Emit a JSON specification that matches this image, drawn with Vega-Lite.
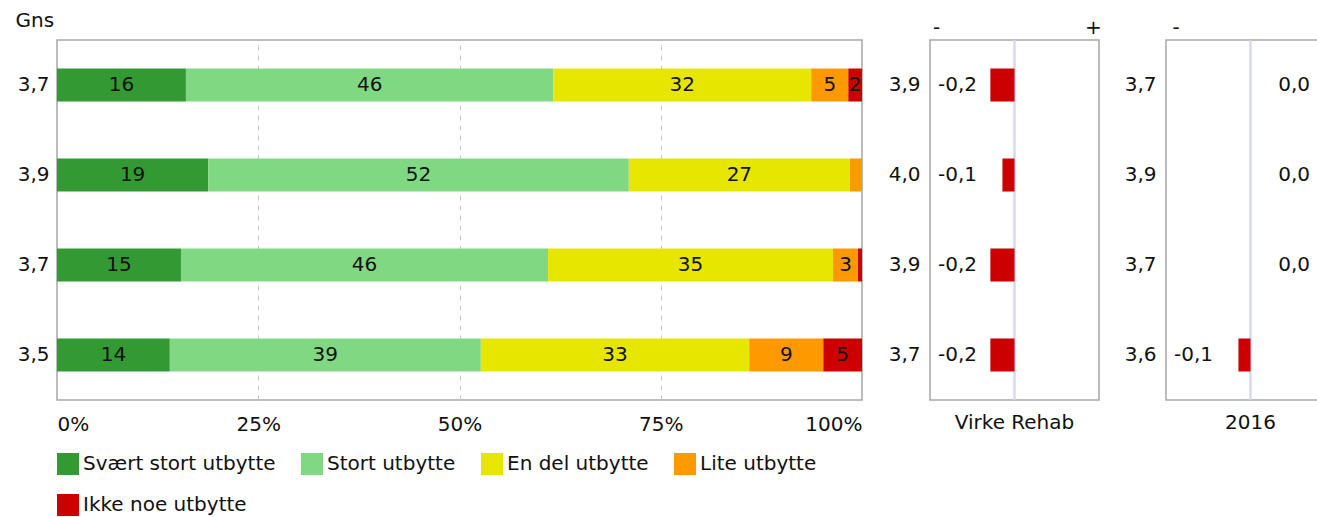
{
  "$schema": "https://vega.github.io/schema/vega-lite/v6.json",
  "background": "white",
  "padding": {"left": 14, "top": 9, "right": 5, "bottom": 5},
  "config": {
    "font": "DejaVu Sans",
    "view": {"stroke": "#a6a6a6", "strokeWidth": 1.5},
    "axis": {"labelFont": "DejaVu Sans", "labelFontSize": 20, "labelColor": "#111111", "titleFont": "DejaVu Sans", "titleFontSize": 20, "titleFontWeight": "normal", "titleColor": "#111111"},
    "legend": {"labelFont": "DejaVu Sans", "labelFontSize": 20, "labelColor": "#111111"},
    "title": {"font": "DejaVu Sans", "fontSize": 20, "fontWeight": "normal", "color": "#111111"}
  },
  "datasets": {
    "main": [
      {"key": "1|3,7", "cat": "Svært stort utbytte", "o": 1, "pct": 16.0, "label": "16"},
      {"key": "1|3,7", "cat": "Stort utbytte", "o": 2, "pct": 45.6, "label": "46"},
      {"key": "1|3,7", "cat": "En del utbytte", "o": 3, "pct": 32.0, "label": "32"},
      {"key": "1|3,7", "cat": "Lite utbytte", "o": 4, "pct": 4.6, "label": "5"},
      {"key": "1|3,7", "cat": "Ikke noe utbytte", "o": 5, "pct": 1.7, "label": "2"},
      {"key": "2|3,9", "cat": "Svært stort utbytte", "o": 1, "pct": 18.8, "label": "19"},
      {"key": "2|3,9", "cat": "Stort utbytte", "o": 2, "pct": 52.3, "label": "52"},
      {"key": "2|3,9", "cat": "En del utbytte", "o": 3, "pct": 27.5, "label": "27"},
      {"key": "2|3,9", "cat": "Lite utbytte", "o": 4, "pct": 1.5, "label": ""},
      {"key": "2|3,9", "cat": "Ikke noe utbytte", "o": 5, "pct": 0.0, "label": ""},
      {"key": "3|3,7", "cat": "Svært stort utbytte", "o": 1, "pct": 15.4, "label": "15"},
      {"key": "3|3,7", "cat": "Stort utbytte", "o": 2, "pct": 45.6, "label": "46"},
      {"key": "3|3,7", "cat": "En del utbytte", "o": 3, "pct": 35.4, "label": "35"},
      {"key": "3|3,7", "cat": "Lite utbytte", "o": 4, "pct": 3.1, "label": "3"},
      {"key": "3|3,7", "cat": "Ikke noe utbytte", "o": 5, "pct": 0.5, "label": ""},
      {"key": "4|3,5", "cat": "Svært stort utbytte", "o": 1, "pct": 14.0, "label": "14"},
      {"key": "4|3,5", "cat": "Stort utbytte", "o": 2, "pct": 38.6, "label": "39"},
      {"key": "4|3,5", "cat": "En del utbytte", "o": 3, "pct": 33.3, "label": "33"},
      {"key": "4|3,5", "cat": "Lite utbytte", "o": 4, "pct": 9.2, "label": "9"},
      {"key": "4|3,5", "cat": "Ikke noe utbytte", "o": 5, "pct": 4.8, "label": "5"}
    ],
    "virke": [
      {"key": "1|3,9", "diff": -0.2, "label": "-0,2"},
      {"key": "2|4,0", "diff": -0.1, "label": "-0,1"},
      {"key": "3|3,9", "diff": -0.2, "label": "-0,2"},
      {"key": "4|3,7", "diff": -0.2, "label": "-0,2"}
    ],
    "y2016": [
      {"key": "1|3,7", "diff": 0.0, "label": "0,0"},
      {"key": "2|3,9", "diff": 0.0, "label": "0,0"},
      {"key": "3|3,7", "diff": 0.0, "label": "0,0"},
      {"key": "4|3,6", "diff": -0.1, "label": "-0,1"}
    ]
  },
  "spacing": 24,
  "hconcat": [
    {
      "width": 805,
      "height": 360,
      "data": {"name": "main"},
      "encoding": {
        "y": {
          "field": "key", "type": "nominal", "sort": null,
          "scale": {"paddingInner": 0.6333, "paddingOuter": 0.3167},
          "axis": {"labelExpr": "split(datum.value,'|')[1]", "ticks": false, "domain": false, "labelPadding": 8, "title": "Gns", "titleAngle": 0, "titleAlign": "left", "titleBaseline": "alphabetic", "titleX": -42, "titleY": -14}
        }
      },
      "layer": [
        {
          "mark": {"type": "bar"},
          "encoding": {
            "x": {
              "field": "pct", "type": "quantitative", "stack": "normalize",
              "scale": {"domain": [0, 1]},
              "axis": {"values": [0, 0.25, 0.5, 0.75, 1], "format": "%", "labelFlush": true, "ticks": false, "domain": false, "grid": true, "gridDash": [5, 5], "gridColor": "#c8c8c8", "gridOpacity": {"condition": {"test": "datum.value == 0 || datum.value == 1", "value": 0}, "value": 1}, "labelPadding": 14, "title": null}
            },
            "color": {
              "field": "cat", "type": "nominal",
              "scale": {"domain": ["Svært stort utbytte", "Stort utbytte", "En del utbytte", "Lite utbytte", "Ikke noe utbytte"], "range": ["#339933", "#80d982", "#e6e600", "#ff9900", "#cc0000"]},
              "legend": {"orient": "bottom", "title": null, "columns": 4, "symbolType": "square", "symbolSize": 484, "symbolStrokeWidth": 0, "symbolOpacity": 1, "columnPadding": 25, "rowPadding": 19, "labelOffset": 4, "offset": 18, "labelLimit": 400}
            },
            "order": {"field": "o", "type": "quantitative"}
          }
        },
        {
          "mark": {"type": "text", "fontSize": 20, "color": "#111111", "baseline": "middle"},
          "encoding": {
            "x": {"field": "pct", "type": "quantitative", "stack": "normalize", "bandPosition": 0.5},
            "detail": {"field": "cat", "type": "nominal"},
            "text": {"field": "label", "type": "nominal"},
            "order": {"field": "o", "type": "quantitative"}
          }
        }
      ]
    },
    {
      "spacing": 20,
      "hconcat": [
        {
          "width": 169,
          "height": 360,
          "data": {"name": "virke"},
          "title": {"text": "Virke Rehab", "orient": "bottom", "offset": 12},
          "layer": [
            {
              "mark": {"type": "rule", "color": "#d6d6f2", "strokeWidth": 1.5},
              "encoding": {
                "x": {"datum": 0, "type": "quantitative", "scale": {"domain": [-0.65, 0.65]},
                  "axis": {"orient": "top", "values": [-0.65, 0.65], "labelExpr": "datum.value < 0 ? '-' : '+'", "labelFlush": true, "ticks": false, "domain": false, "grid": false, "title": null, "labelPadding": 3}}
              }
            },
            {
              "mark": {"type": "bar", "color": "#cc0000"},
              "encoding": {
                "y": {"field": "key", "type": "nominal", "sort": null, "scale": {"paddingInner": 0.6333, "paddingOuter": 0.3167},
                  "axis": {"labelExpr": "split(datum.value,'|')[1]", "ticks": false, "domain": false, "labelPadding": 10, "title": null}},
                "x": {"field": "diff", "type": "quantitative"}
              }
            },
            {
              "transform": [{"filter": "datum.diff < 0"}],
              "mark": {"type": "text", "fontSize": 20, "color": "#111111", "align": "left", "baseline": "middle", "dx": 2},
              "encoding": {
                "y": {"field": "key", "type": "nominal", "sort": null},
                "x": {"datum": -0.65, "type": "quantitative"},
                "text": {"field": "label", "type": "nominal"}
              }
            },
            {
              "transform": [{"filter": "datum.diff >= 0"}],
              "mark": {"type": "text", "fontSize": 20, "color": "#111111", "align": "right", "baseline": "middle", "dx": -5},
              "encoding": {
                "y": {"field": "key", "type": "nominal", "sort": null},
                "x": {"datum": 0.65, "type": "quantitative"},
                "text": {"field": "label", "type": "nominal"}
              }
            }
          ]
        },
        {
          "width": 169,
          "height": 360,
          "data": {"name": "y2016"},
          "title": {"text": "2016", "orient": "bottom", "offset": 12},
          "layer": [
            {
              "mark": {"type": "rule", "color": "#d6d6f2", "strokeWidth": 1.5},
              "encoding": {
                "x": {"datum": 0, "type": "quantitative", "scale": {"domain": [-0.65, 0.65]},
                  "axis": {"orient": "top", "values": [-0.65], "labelExpr": "'-'", "labelAlign": "left", "ticks": false, "domain": false, "grid": false, "title": null, "labelPadding": 3}}
              }
            },
            {
              "mark": {"type": "bar", "color": "#cc0000"},
              "encoding": {
                "y": {"field": "key", "type": "nominal", "sort": null, "scale": {"paddingInner": 0.6333, "paddingOuter": 0.3167},
                  "axis": {"labelExpr": "split(datum.value,'|')[1]", "ticks": false, "domain": false, "labelPadding": 10, "title": null}},
                "x": {"field": "diff", "type": "quantitative"}
              }
            },
            {
              "transform": [{"filter": "datum.diff < 0"}],
              "mark": {"type": "text", "fontSize": 20, "color": "#111111", "align": "left", "baseline": "middle", "dx": 2},
              "encoding": {
                "y": {"field": "key", "type": "nominal", "sort": null},
                "x": {"datum": -0.65, "type": "quantitative"},
                "text": {"field": "label", "type": "nominal"}
              }
            },
            {
              "transform": [{"filter": "datum.diff >= 0"}],
              "mark": {"type": "text", "fontSize": 20, "color": "#111111", "align": "right", "baseline": "middle", "dx": -19},
              "encoding": {
                "y": {"field": "key", "type": "nominal", "sort": null},
                "x": {"datum": 0.65, "type": "quantitative"},
                "text": {"field": "label", "type": "nominal"}
              }
            }
          ]
        }
      ]
    }
  ]
}
